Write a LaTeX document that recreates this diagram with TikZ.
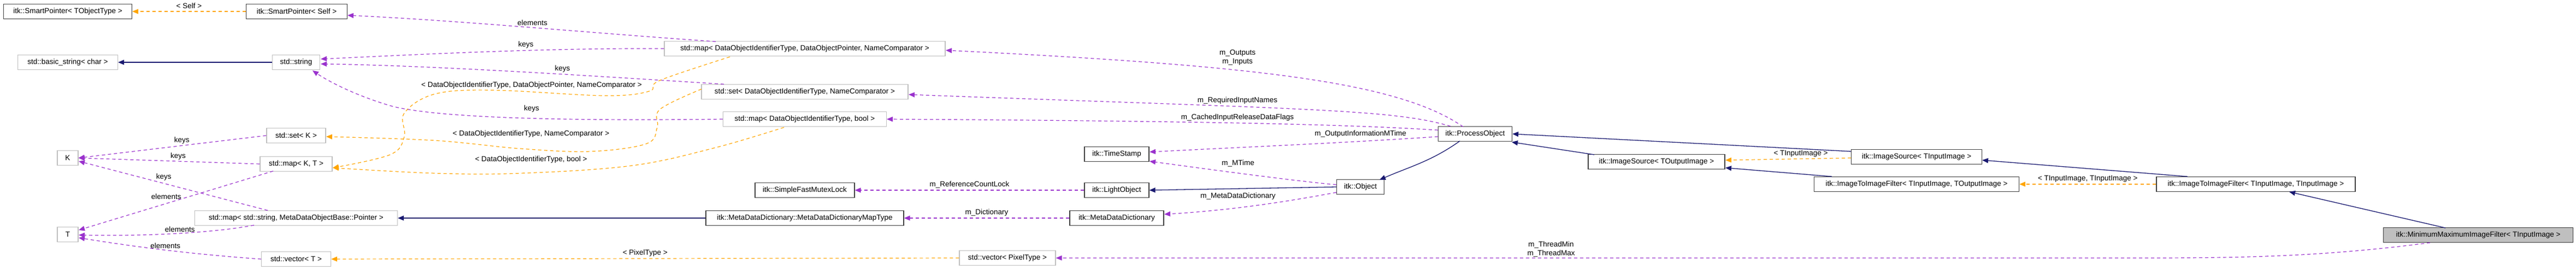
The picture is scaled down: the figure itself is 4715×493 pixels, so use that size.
\documentclass[tikz,border=0pt]{standalone}
\usepackage{fontspec}
\setmainfont{Liberation Sans}
\usetikzlibrary{arrows.meta}
\definecolor{purp}{HTML}{9A32CD}
\definecolor{orng}{HTML}{FFA500}
\definecolor{navy}{HTML}{191970}
\definecolor{gbord}{HTML}{BFBFBF}
\definecolor{dbord}{HTML}{404040}
\begin{document}
\begin{tikzpicture}[x=1pt,y=-1pt,
  every node/.style={font=\fontsize{13.5}{16}\selectfont},
  bx/.style={draw,line width=1.3pt,inner sep=0pt,minimum height=27pt},
  sbox/.style={bx,draw=gbord},
  ibox/.style={bx,draw=dbord},
  tip/.style={-{Triangle[length=11pt,width=9pt]}},
  mem/.style={tip,purp,line width=1.2pt,dash pattern=on 6pt off 5pt},
  tpl/.style={tip,orng,line width=1.2pt,dash pattern=on 6pt off 5pt},
  inh/.style={tip,navy,line width=1.3pt},
  lab/.style={text=black,inner sep=1pt,align=center,font=\fontsize{13.5}{16}\selectfont}]
\useasboundingbox (0,0) rectangle (4715,493);
% nodes
\node[ibox,minimum width=235pt] (spt) at (124,21) {itk::SmartPointer< TObjectType >};
\node[ibox,minimum width=185pt] (sps) at (543,21) {itk::SmartPointer< Self >};
\node[sbox,minimum width=183pt] (bstr) at (124,114) {std::basic\_string< char >};
\node[sbox,minimum width=87pt] (str) at (542,114) {std::string};
\node[sbox,minimum width=108pt] (setk) at (542,248) {std::set< K >};
\node[sbox,minimum width=38pt] (K) at (124,289) {K};
\node[sbox,minimum width=132pt] (mapkt) at (542,300) {std::map< K, T >};
\node[sbox,minimum width=371pt] (mapstr) at (542,399) {std::map< std::string, MetaDataObjectBase::Pointer >};
\node[sbox,minimum width=38pt] (T) at (124,429) {T};
\node[sbox,minimum width=127pt] (vT) at (542,474) {std::vector< T >};
\node[sbox,minimum width=514pt] (mapptr) at (1473,89) {std::map< DataObjectIdentifierType, DataObjectPointer, NameComparator >};
\node[sbox,minimum width=378pt] (setid) at (1473,168) {std::set< DataObjectIdentifierType, NameComparator >};
\node[sbox,minimum width=299pt] (mapbool) at (1473,218) {std::map< DataObjectIdentifierType, bool >};
\node[ibox,minimum width=182pt] (mutex) at (1473,348) {itk::SimpleFastMutexLock};
\node[ibox,minimum width=362pt] (maptype) at (1473,399) {itk::MetaDataDictionary::MetaDataDictionaryMapType};
\node[ibox,minimum width=118pt] (ts) at (2044,282) {itk::TimeStamp};
\node[ibox,minimum width=118pt] (light) at (2044,348) {itk::LightObject};
\node[ibox,minimum width=172pt] (mdd) at (2044,399) {itk::MetaDataDictionary};
\node[sbox,minimum width=176pt] (vpix) at (1844,472) {std::vector< PixelType >};
\node[ibox,minimum width=135pt] (po) at (2700,245) {itk::ProcessObject};
\node[ibox,minimum width=87pt] (obj) at (2490,342) {itk::Object};
\node[ibox,minimum width=250pt] (isto) at (3032,296) {itk::ImageSource< TOutputImage >};
\node[ibox,minimum width=239pt] (isti) at (3508,287) {itk::ImageSource< TInputImage >};
\node[ibox,minimum width=375pt] (i2ito) at (3508,337) {itk::ImageToImageFilter< TInputImage, TOutputImage >};
\node[ibox,minimum width=364pt] (i2iti) at (4129,337) {itk::ImageToImageFilter< TInputImage, TInputImage >};
\node[ibox,minimum width=347pt,fill=gbord] (mm) at (4536,430) {itk::MinimumMaximumImageFilter< TInputImage >};
% left side
\draw[tpl] (sps.west) -- (spt.east) node[lab,midway,above=4pt] {< Self >};
\draw[inh] (str.west) -- (bstr.east);
\draw[mem] (setk.west) -- (K.east) node[lab,pos=0.45,above=2pt] {keys};
\draw[mem] (mapkt.west) -- (K.east) node[lab,pos=0.45,above=1pt] {keys};
\draw[mem] (490,385) -- (144,295) node[lab,pos=0.55,above=4pt] {keys};
\draw[mem] (500,313) -- (144,421) node[lab,pos=0.55,above=6pt] {elements};
\draw[mem] (465,412) .. controls (380,428) and (250,432) .. (144,430) node[lab,pos=0.45,above=1pt] {elements};
\draw[mem] (vT.west) .. controls (350,465) and (250,452) .. (144,435) node[lab,pos=0.5,above=1pt] {elements};
\draw[inh] (maptype.west) -- (mapstr.east);
\draw[tpl] (vpix.west) -- (vT.east) node[lab,midway,above=2pt] {< PixelType >};
% from middle std containers
\draw[mem] (1310,76) .. controls (1100,62) and (850,38) .. (636,28) node[lab,pos=0.5,above=2pt] {elements};
\draw[mem] (mapptr.west) .. controls (1000,88) and (800,98) .. (587,108) node[lab,pos=0.4,above=2pt] {keys};
\draw[mem] (1325,154) .. controls (1100,140) and (800,120) .. (587,117) node[lab,pos=0.4,above=2pt] {keys};
\draw[mem] (mapbool.west) .. controls (1000,222) and (800,214) .. (720,195) .. controls (650,175) and (600,148) .. (572,129);
\node[lab] at (973,199) {keys};
\draw[tpl] plot[smooth,tension=0.6] coordinates {(1336,104) (1208,147) (1188,167) (1106,175) (902,165) (796,172) (740,207) (740,250) (714,283) (609,307)};
\node[lab] at (973,156) {< DataObjectIdentifierType, DataObjectPointer, NameComparator >};
\draw[tpl] plot[smooth,tension=0.6] coordinates {(1284,163) (1208,200) (1203,233) (1183,263) (1081,277) (953,272) (796,257) (597,250)};
\node[lab] at (972,245) {< DataObjectIdentifierType, NameComparator >};
\draw[tpl] plot[smooth,tension=0.6] coordinates {(1435,233) (1310,270) (1157,303) (953,317) (796,317) (609,307)};
\node[lab] at (972,292) {< DataObjectIdentifierType, bool >};
% process object members
\draw[mem] (2678,232) .. controls (2560,150) and (2300,120) .. (1731,92);
\node[lab] at (2265,105) {m\_Outputs\\m\_Inputs};
\draw[mem] (2655,231) .. controls (2550,200) and (2400,200) .. (1663,173);
\node[lab] at (2265,184) {m\_RequiredInputNames};
\draw[mem] (po.west) ++(0,-7) .. controls (2500,230) and (2300,222) .. (1623,218);
\node[lab] at (2265,215) {m\_CachedInputReleaseDataFlags};
\draw[mem] (2632,250) .. controls (2450,262) and (2300,268) .. (2104,278);
\node[lab] at (2490,245) {m\_OutputInformationMTime};
\draw[mem] (obj.west) ++(0,-4) .. controls (2380,332) and (2250,315) .. (2104,295);
\node[lab] at (2266,299) {m\_MTime};
\draw[mem] (light.west) -- (mutex.east) node[lab,midway,above=2pt] {m\_ReferenceCountLock};
\draw[inh] (obj.west) -- (light.east);
\draw[mem] (2446,352) .. controls (2350,370) and (2250,385) .. (2131,392);
\node[lab] at (2266,359) {m\_MetaDataDictionary};
\draw[mem] (mdd.west) -- (maptype.east) node[lab,midway,above=2pt] {m\_Dictionary};
% inheritance chain
\draw[inh] (2672,258) .. controls (2620,295) and (2580,305) .. (2525,329);
\draw[inh] (2918,283) -- (2767,260);
\draw[inh] (3388,277) -- (po.east);
\draw[tpl] (3388,289) -- (3158,293) node[lab,pos=0.4,above=2pt] {< TInputImage >};
\draw[inh] (3353,323) -- (3158,307);
\draw[inh] (4004,323) -- (3628,293);
\draw[tpl] (i2iti.west) -- (i2ito.east) node[lab,midway,above=2pt] {< TInputImage, TInputImage >};
\draw[inh] (4476,417) -- (4190,351);
\draw[mem] (4448,444) .. controls (4250,470) and (4100,472) .. (3915,472) -- (vpix.east);
\node[lab] at (2839,456) {m\_ThreadMin\\m\_ThreadMax};
\end{tikzpicture}
\end{document}
